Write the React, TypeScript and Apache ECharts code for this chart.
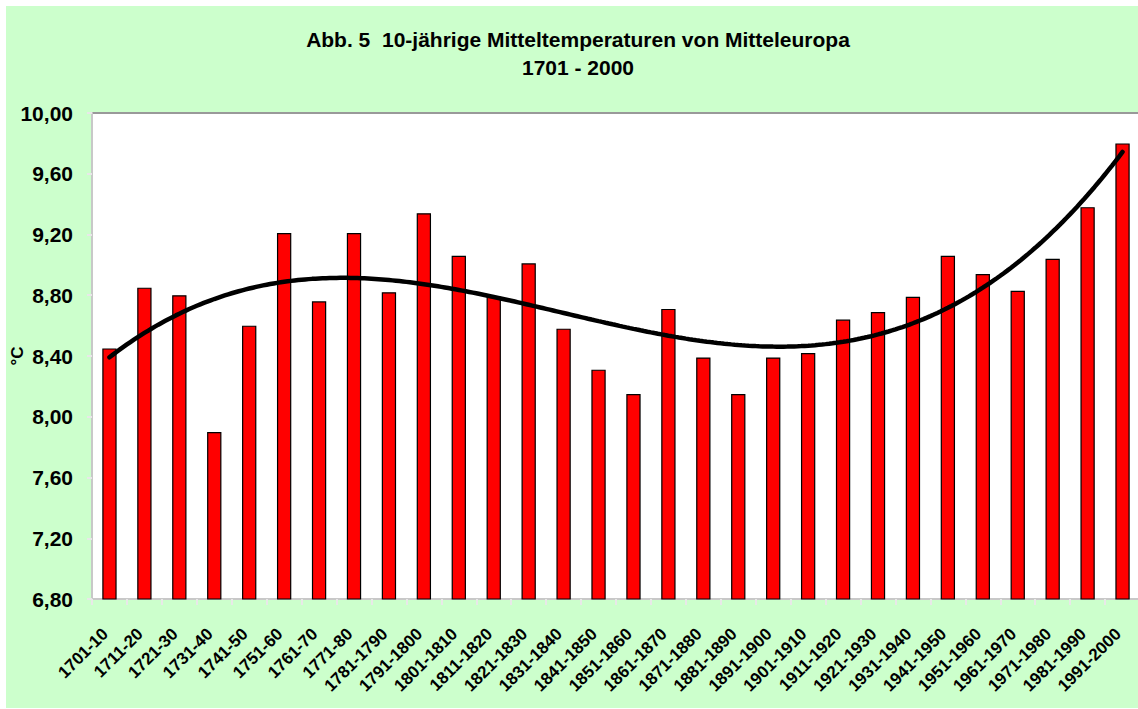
import React, { useEffect, useRef } from "react";
import * as echarts from "echarts";

const categories: string[] = [
  "1701-10", "1711-20", "1721-30", "1731-40", "1741-50", "1751-60", "1761-70", "1771-80",
  "1781-1790", "1791-1800", "1801-1810", "1811-1820", "1821-1830", "1831-1840", "1841-1850",
  "1851-1860", "1861-1870", "1871-1880", "1881-1890", "1891-1900", "1901-1910", "1911-1920",
  "1921-1930", "1931-1940", "1941-1950", "1951-1960", "1961-1970", "1971-1980", "1981-1990",
  "1991-2000",
];

const temperatures: number[] = [
  8.45, 8.85, 8.8, 7.9, 8.6, 9.21, 8.76, 9.21, 8.82, 9.34, 9.06, 8.79, 9.01, 8.58, 8.31,
  8.15, 8.71, 8.39, 8.15, 8.39, 8.42, 8.64, 8.69, 8.79, 9.06, 8.94, 8.83, 9.04, 9.38, 9.8,
];

const titleLines: string[] = ["Abb. 5  10-jährige Mitteltemperaturen von Mitteleuropa", "1701 - 2000"];
const yAxisName = "°C";
const yMin = 6.8;
const yMax = 10.0;
const yStep = 0.4;

// Cubic least-squares trend line (as Excel's polynomial trendline of order 3)
function cubicFit(ys: number[]): number[] {
  const n = ys.length;
  const scale = n - 1;
  const A: number[][] = [];
  for (let r = 0; r < 4; r++) {
    A.push([0, 0, 0, 0, 0]);
  }
  for (let i = 0; i < n; i++) {
    const t = i / scale;
    const pw = [1, t, t * t, t * t * t];
    for (let r = 0; r < 4; r++) {
      for (let c = 0; c < 4; c++) A[r][c] += pw[r] * pw[c];
      A[r][4] += pw[r] * ys[i];
    }
  }
  for (let c = 0; c < 4; c++) {
    let p = c;
    for (let r = c + 1; r < 4; r++) if (Math.abs(A[r][c]) > Math.abs(A[p][c])) p = r;
    const tmp = A[c]; A[c] = A[p]; A[p] = tmp;
    for (let r = 0; r < 4; r++) {
      if (r === c) continue;
      const f = A[r][c] / A[c][c];
      for (let k = c; k < 5; k++) A[r][k] -= f * A[c][k];
    }
  }
  return [A[0][4] / A[0][0], A[1][4] / A[1][1], A[2][4] / A[2][2], A[3][4] / A[3][3]];
}

export default function App() {
  const ref = useRef<HTMLDivElement>(null);
  useEffect(() => {
    if (!ref.current) return;
    const chart = echarts.init(ref.current, undefined, { renderer: "svg" });
    const coef = cubicFit(temperatures);
    const n = temperatures.length;
    const trend: number[][] = [];
    for (let k = 0; k <= (n - 1) * 10; k++) {
      const x = k / 10;
      const t = x / (n - 1);
      trend.push([x, coef[0] + coef[1] * t + coef[2] * t * t + coef[3] * t * t * t]);
    }
    const font = "'Liberation Sans', Arial, sans-serif";
    chart.setOption({
      animation: false,
      backgroundColor: "#ffffff",
      graphic: [
        {
          type: "rect",
          z: -10,
          shape: { x: 6, y: 6, width: 1140, height: 702 },
          style: { fill: "#ccffcc" },
          silent: true,
        },
        {
          type: "text",
          x: 578,
          y: 53.5,
          style: {
            text: titleLines.join("\n"),
            fontFamily: font,
            fontWeight: "bold",
            fontSize: 21,
            lineHeight: 28,
            fill: "#000",
            textAlign: "center",
            textVerticalAlign: "middle",
          },
        },
      ],
      grid: {
        left: 92,
        top: 113,
        right: -2,
        bottom: 110,
        containLabel: false,
        outerBoundsMode: "none",
        show: true,
        backgroundColor: "#ffffff",
        borderColor: "#999999",
        borderWidth: 2,
      },
      xAxis: [
        {
          type: "category",
          data: categories,
          boundaryGap: true,
          axisLine: { show: true, onZero: false, lineStyle: { color: "#c8c8c8", width: 2 } },
          axisTick: { show: true, alignWithLabel: false, length: 6, lineStyle: { color: "#e8e8e8", width: 2 } },
          axisLabel: {
            interval: 0,
            rotate: 45,
            margin: 28,
            padding: [0, 6, 0, 0],
            color: "#000",
            fontFamily: font,
            fontWeight: "bold",
            fontSize: 17,
          },
          splitLine: { show: false },
        },
        {
          type: "value",
          min: -0.5,
          max: n - 0.5,
          show: false,
        },
      ],
      yAxis: {
        type: "value",
        min: yMin,
        max: yMax,
        interval: yStep,
        name: yAxisName,
        nameLocation: "middle",
        nameRotate: 90,
        nameGap: 66,
        nameMoveOverlap: false,
        nameTextStyle: { color: "#000", fontFamily: font, fontWeight: "bold", fontSize: 17 },
        axisLine: { show: true, onZero: false, lineStyle: { color: "#c8c8c8", width: 2 } },
        axisTick: { show: true, length: 5, lineStyle: { color: "#e8e8e8", width: 2 } },
        axisLabel: {
          margin: 19,
          color: "#000",
          fontFamily: font,
          fontWeight: "bold",
          fontSize: 21,
          formatter: (v: number) => v.toFixed(2).replace(".", ","),
        },
        splitLine: { show: false },
      },
      series: [
        {
          type: "bar",
          data: temperatures,
          barWidth: "41%",
          itemStyle: { color: "#ff0000", borderColor: "#000", borderWidth: 1.2 },
          z: 2,
        },
        {
          type: "line",
          xAxisIndex: 1,
          data: trend,
          showSymbol: false,
          symbol: "none",
          lineStyle: { color: "#000", width: 4.5, cap: "round" },
          z: 5,
        },
      ],
    });
    return () => chart.dispose();
  }, []);
  return (
    <div
      ref={ref}
      style={{ position: "absolute", left: 0, top: 0, width: 1138, height: 709 }}
    />
  );
}
